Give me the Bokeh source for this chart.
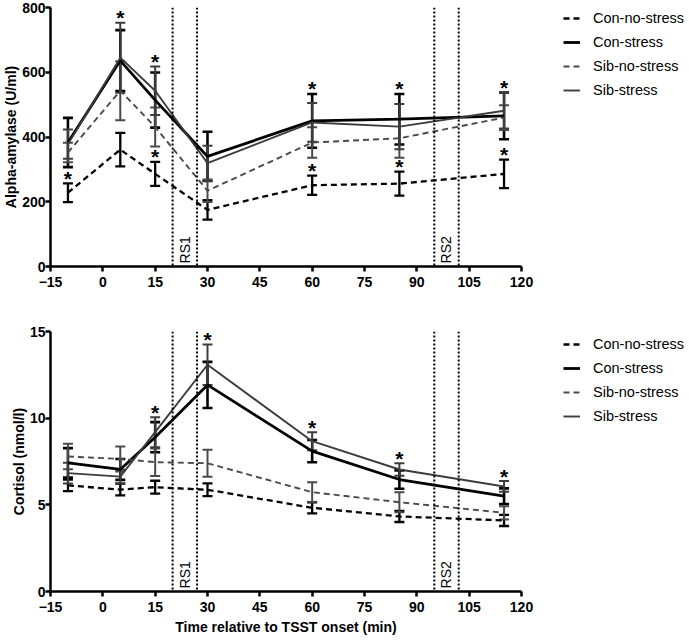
import numpy as np
from bokeh.plotting import figure
from bokeh.models import (ColumnDataSource, Whisker, TeeHead, Span, Label,
                          Legend, LegendItem, FixedTicker, Range1d)
from bokeh.layouts import column, row
from bokeh.embed import file_html
from bokeh.resources import INLINE
from bokeh.core.properties import value

# ---------------- data ----------------
times = [-10, 5, 15, 30, 60, 85, 115]
groups = ["Con-no-stress", "Con-stress", "Sib-no-stress", "Sib-stress"]

# Alpha-amylase (U/ml): mean and SEM
amy_con_no_stress = [228, 361, 286, 175, 251, 256, 286]
amy_con_no_stress_sem = [29, 52, 37, 30, 30, 37, 44]
amy_con_stress = [383, 636, 514, 340, 450, 455, 465]
amy_con_stress_sem = [76, 94, 85, 76, 83, 78, 72]
amy_sib_no_stress = [352, 543, 431, 234, 383, 396, 460]
amy_sib_no_stress_sem = [30, 91, 60, 35, 47, 60, 38]
amy_sib_stress = [378, 645, 543, 319, 445, 432, 481]
amy_sib_stress_sem = [45, 108, 75, 54, 60, 70, 55]

# Cortisol (nmol/l): mean and SEM
cort_con_no_stress = [6.12, 5.88, 6.02, 5.87, 4.83, 4.33, 4.10]
cort_con_no_stress_sem = [0.33, 0.34, 0.37, 0.37, 0.32, 0.32, 0.32]
cort_con_stress = [7.42, 7.04, 8.90, 11.92, 8.10, 6.46, 5.50]
cort_con_stress_sem = [0.85, 0.60, 0.87, 1.33, 0.64, 0.53, 0.45]
cort_sib_no_stress = [7.79, 7.65, 7.46, 7.40, 5.73, 5.15, 4.54]
cort_sib_no_stress_sem = [0.73, 0.72, 0.79, 0.78, 0.58, 0.58, 0.38]
cort_sib_stress = [6.83, 6.63, 9.19, 13.08, 8.67, 7.04, 6.06]
cort_sib_stress_sem = [0.60, 0.40, 0.87, 1.17, 0.52, 0.36, 0.31]

# rest sample windows
rs_times = [20, 27, 95, 102]
rs_labels = ["RS1", "RS2"]

# significance stars (time points)
amy_star_top = [5, 15, 60, 85, 115]
amy_star_low = [-10, 15, 60, 85, 115]
cort_star_top = [15, 30, 60, 85, 115]

x_ticks = [-15, 0, 15, 30, 45, 60, 75, 90, 105, 120]
amy_ticks = [0, 200, 400, 600, 800]
cort_ticks = [0, 5, 10, 15]

# ---------------- styles ----------------
FONT = "Liberation Sans"
MAIN_W = 535
LEG_W = 150
styles = {
    "Con-no-stress": dict(color="#000000", dash="6 4", width=2.3, ebw=2.3),
    "Con-stress": dict(color="#000000", dash="solid", width=2.8, ebw=2.6),
    "Sib-no-stress": dict(color="#4a4a4a", dash="6 4", width=1.9, ebw=2.0),
    "Sib-stress": dict(color="#3c3c3c", dash="solid", width=1.9, ebw=2.0),
}


def make_panel(series, ymax, yticks, ylabel, xlabel, star_top, star_low,
               height, border_top, border_bottom):
    p = figure(width=MAIN_W, height=height,
               x_range=Range1d(-15, 120), y_range=Range1d(0, ymax),
               output_backend="svg", toolbar_location=None,
               min_border_left=44, min_border_right=14,
               min_border_top=border_top, min_border_bottom=border_bottom)
    p.outline_line_color = None
    p.grid.visible = False
    p.background_fill_color = "white"

    for ax in (p.xaxis[0], p.yaxis[0]):
        ax.axis_line_width = 2.5
        ax.axis_line_color = "black"
        ax.major_tick_line_width = 2.5
        ax.major_tick_line_color = "black"
        ax.major_tick_in = 0
        ax.major_tick_out = 5
        ax.minor_tick_line_color = None
        ax.major_label_text_font = FONT
        ax.major_label_text_font_style = "bold"
        ax.major_label_text_font_size = "14px"
        ax.major_label_text_color = "black"
        ax.axis_label_text_font = FONT
        ax.axis_label_text_font_style = "bold"
        ax.axis_label_text_font_size = "14px"
        ax.axis_label_text_color = "black"
    p.xaxis.major_label_standoff = 5
    p.yaxis.major_label_standoff = 0
    p.xaxis.ticker = FixedTicker(ticks=x_ticks)
    p.yaxis.ticker = FixedTicker(ticks=yticks)
    p.yaxis.axis_label = ylabel
    p.yaxis.axis_label_standoff = 0
    if xlabel:
        p.xaxis.axis_label = xlabel
        p.xaxis.axis_label_standoff = 4

    # rest-sample dotted lines
    for t in rs_times:
        p.add_layout(Span(location=t, dimension="height", line_color="black",
                          line_dash="2 2", line_width=2))
    for i, lab in enumerate(rs_labels):
        xm = (rs_times[2 * i] + rs_times[2 * i + 1]) / 2
        p.add_layout(Label(x=xm, y=ymax * 0.012, text=lab, angle=90,
                           angle_units="deg", text_align="left",
                           text_baseline="middle", text_font=FONT,
                           text_font_size="14px", text_color="black"))

    uppers = {}
    for g in groups:
        mean, sem = series[g]
        st = styles[g]
        up = [m + s for m, s in zip(mean, sem)]
        lo = [m - s for m, s in zip(mean, sem)]
        uppers[g] = up
        src = ColumnDataSource(dict(x=times, y=mean, upper=up, lower=lo))
        w = Whisker(source=src, base="x", upper="upper", lower="lower",
                    line_color=st["color"], line_width=st["ebw"],
                    upper_head=TeeHead(size=10, line_color=st["color"], line_width=st["ebw"]),
                    lower_head=TeeHead(size=10, line_color=st["color"], line_width=st["ebw"]))
        p.add_layout(w)
        p.line("x", "y", source=src, line_color=st["color"],
               line_width=st["width"], line_dash=st["dash"])

    # stars above the highest error bar
    top_y = [max(uppers[g][times.index(t)] for g in groups) for t in star_top]
    p.text(x=star_top, y=top_y, text=["*"] * len(star_top),
           text_font=value(FONT), text_font_style="bold",
           text_font_size="21px", text_align="center",
           text_baseline="alphabetic", y_offset=-5, text_color="black")
    if star_low:
        low_y = [uppers["Con-no-stress"][times.index(t)] for t in star_low]
        p.text(x=star_low, y=low_y, text=["*"] * len(star_low),
               text_font=value(FONT), text_font_style="bold",
               text_font_size="21px", text_align="center",
               text_baseline="alphabetic", y_offset=-5, text_color="black")
    return p


def make_legend(series, height, vy):
    # separate legend panel; the series lines lie outside its (0..1) view
    lf = figure(width=LEG_W, height=height, x_range=Range1d(0, 1),
                y_range=Range1d(0, 1), output_backend="svg",
                toolbar_location=None, min_border=0, min_border_left=0,
                min_border_right=0, min_border_top=0, min_border_bottom=0)
    lf.axis.visible = False
    lf.grid.visible = False
    lf.outline_line_color = None
    items = []
    for g in groups:
        st = styles[g]
        r = lf.line(x=times, y=series[g][0], line_color=st["color"],
                    line_width=st["width"], line_dash=st["dash"])
        items.append(LegendItem(label=g, renderers=[r]))
    legend = Legend(items=items, location=(28, vy))
    legend.border_line_color = None
    legend.background_fill_alpha = 0
    legend.padding = 0
    legend.margin = 0
    legend.spacing = 8
    legend.glyph_width = 17
    legend.glyph_height = 16
    legend.label_height = 16
    legend.label_standoff = 13
    legend.label_text_font = FONT
    legend.label_text_font_size = "14.5px"
    legend.label_text_color = "black"
    legend.label_text_baseline = "middle"
    lf.add_layout(legend)
    return lf


amy = {
    "Con-no-stress": (amy_con_no_stress, amy_con_no_stress_sem),
    "Con-stress": (amy_con_stress, amy_con_stress_sem),
    "Sib-no-stress": (amy_sib_no_stress, amy_sib_no_stress_sem),
    "Sib-stress": (amy_sib_stress, amy_sib_stress_sem),
}
cort = {
    "Con-no-stress": (cort_con_no_stress, cort_con_no_stress_sem),
    "Con-stress": (cort_con_stress, cort_con_stress_sem),
    "Sib-no-stress": (cort_sib_no_stress, cort_sib_no_stress_sem),
    "Sib-stress": (cort_sib_stress, cort_sib_stress_sem),
}

p1 = make_panel(amy, 800, amy_ticks, "Alpha-amylase (U/ml)", None,
                amy_star_top, amy_star_low, height=300, border_top=7,
                border_bottom=34)
p2 = make_panel(cort, 15, cort_ticks, "Cortisol (nmol/l)",
                "Time relative to TSST onset (min)",
                cort_star_top, None, height=340, border_top=31,
                border_bottom=49)
l1 = make_legend(amy, 300, 202)
l2 = make_legend(cort, 340, 216)

layout = row(column(p1, p2, spacing=0), column(l1, l2, spacing=0), spacing=0)
open("out.html", "w").write(file_html(layout, INLINE))
